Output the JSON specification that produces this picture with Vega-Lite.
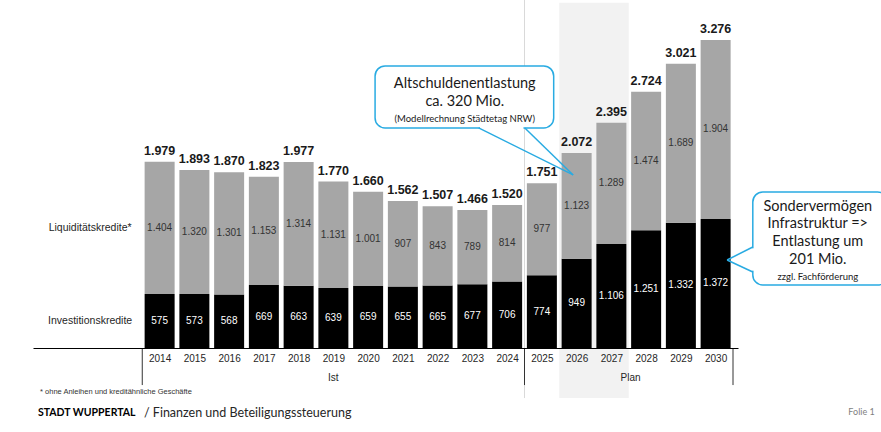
{
  "$schema": "https://vega.github.io/schema/vega-lite/v6.json",
  "width": 705,
  "height": 348,
  "autosize": "none",
  "padding": {"left": 33, "top": 0, "right": 143, "bottom": 84},
  "config": {
    "view": {"stroke": null},
    "font": "Liberation Sans"
  },
  "datasets": {
    "kredite": [
      {"year": 2014, "series": "Investitionskredite", "value": 575},
      {"year": 2014, "series": "Liquiditätskredite*", "value": 1404},
      {"year": 2015, "series": "Investitionskredite", "value": 573},
      {"year": 2015, "series": "Liquiditätskredite*", "value": 1320},
      {"year": 2016, "series": "Investitionskredite", "value": 568},
      {"year": 2016, "series": "Liquiditätskredite*", "value": 1301},
      {"year": 2017, "series": "Investitionskredite", "value": 669},
      {"year": 2017, "series": "Liquiditätskredite*", "value": 1153},
      {"year": 2018, "series": "Investitionskredite", "value": 663},
      {"year": 2018, "series": "Liquiditätskredite*", "value": 1314},
      {"year": 2019, "series": "Investitionskredite", "value": 639},
      {"year": 2019, "series": "Liquiditätskredite*", "value": 1131},
      {"year": 2020, "series": "Investitionskredite", "value": 659},
      {"year": 2020, "series": "Liquiditätskredite*", "value": 1001},
      {"year": 2021, "series": "Investitionskredite", "value": 655},
      {"year": 2021, "series": "Liquiditätskredite*", "value": 907},
      {"year": 2022, "series": "Investitionskredite", "value": 665},
      {"year": 2022, "series": "Liquiditätskredite*", "value": 843},
      {"year": 2023, "series": "Investitionskredite", "value": 677},
      {"year": 2023, "series": "Liquiditätskredite*", "value": 789},
      {"year": 2024, "series": "Investitionskredite", "value": 706},
      {"year": 2024, "series": "Liquiditätskredite*", "value": 814},
      {"year": 2025, "series": "Investitionskredite", "value": 774},
      {"year": 2025, "series": "Liquiditätskredite*", "value": 977},
      {"year": 2026, "series": "Investitionskredite", "value": 949},
      {"year": 2026, "series": "Liquiditätskredite*", "value": 1123},
      {"year": 2027, "series": "Investitionskredite", "value": 1106},
      {"year": 2027, "series": "Liquiditätskredite*", "value": 1289},
      {"year": 2028, "series": "Investitionskredite", "value": 1251},
      {"year": 2028, "series": "Liquiditätskredite*", "value": 1474},
      {"year": 2029, "series": "Investitionskredite", "value": 1332},
      {"year": 2029, "series": "Liquiditätskredite*", "value": 1689},
      {"year": 2030, "series": "Investitionskredite", "value": 1372},
      {"year": 2030, "series": "Liquiditätskredite*", "value": 1904}
    ],
    "totals": [
      {"year": 2014, "total": 1979},
      {"year": 2015, "total": 1893},
      {"year": 2016, "total": 1870},
      {"year": 2017, "total": 1823},
      {"year": 2018, "total": 1977},
      {"year": 2019, "total": 1770},
      {"year": 2020, "total": 1660},
      {"year": 2021, "total": 1562},
      {"year": 2022, "total": 1507},
      {"year": 2023, "total": 1466},
      {"year": 2024, "total": 1520},
      {"year": 2025, "total": 1751},
      {"year": 2026, "total": 2072},
      {"year": 2027, "total": 2395},
      {"year": 2028, "total": 2724},
      {"year": 2029, "total": 3021},
      {"year": 2030, "total": 3276}
    ],
    "boxes": [
      {"kind": "highlight", "x": 2025.5, "x2": 2027.5, "y": -532, "y2": 3670},
      {"kind": "bubble", "x": 2020.2, "x2": 2025.34, "y": 2999, "y2": 2340},
      {"kind": "bubble", "x": 2031.07, "x2": 2034.95, "y": 1659, "y2": 670}
    ],
    "lines": [
      {"kind": "light", "x": 2024.5, "x2": 2024.5, "y": -532, "y2": 3700},
      {"kind": "divider", "x": 2013.5, "x2": 2013.5, "y": 0, "y2": -394},
      {"kind": "divider", "x": 2024.5, "x2": 2024.5, "y": 0, "y2": -394},
      {"kind": "divider", "x": 2030.5, "x2": 2030.5, "y": 0, "y2": -394},
      {"kind": "cover", "x": 2023.22, "x2": 2024.47, "y": 2340, "y2": 2340},
      {"kind": "cover", "x": 2031.07, "x2": 2031.07, "y": 1060, "y2": 822},
      {"kind": "tail", "x": 2023.18, "x2": 2025.9, "y": 2340, "y2": 1840},
      {"kind": "tail", "x": 2024.51, "x2": 2025.9, "y": 2340, "y2": 1840},
      {"kind": "tail", "x": 2031.07, "x2": 2030.33, "y": 1074, "y2": 936},
      {"kind": "tail", "x": 2031.07, "x2": 2030.33, "y": 808, "y2": 936}
    ],
    "notes": [
      {"kind": "rowlabel", "x": 2012.0, "y": 1277, "text": "Liquiditätskredite*"},
      {"kind": "rowlabel", "x": 2012.0, "y": 287, "text": "Investitionskredite"},
      {"kind": "group", "x": 2019, "y": -319, "text": "Ist"},
      {"kind": "group", "x": 2027.55, "y": -319, "text": "Plan"},
      {"kind": "bubble", "x": 2022.78, "y": 2809, "text": "Altschuldenentlastung"},
      {"kind": "bubble", "x": 2022.78, "y": 2617, "text": "ca. 320 Mio."},
      {"kind": "bubblesmall", "x": 2022.78, "y": 2436, "text": "(Modellrechnung Städtetag NRW)"},
      {"kind": "bubble", "x": 2032.94, "y": 1499, "text": "Sondervermögen"},
      {"kind": "bubble", "x": 2032.94, "y": 1319, "text": "Infrastruktur =>"},
      {"kind": "bubble", "x": 2032.94, "y": 1127, "text": "Entlastung um"},
      {"kind": "bubble", "x": 2032.94, "y": 936, "text": "201 Mio."},
      {"kind": "bubblesmall", "x": 2032.94, "y": 755, "text": "zzgl. Fachförderung"},
      {"kind": "footnote", "x": 2010.56, "y": -468, "text": "* ohne Anleihen und kreditähnliche Geschäfte"},
      {"kind": "footerbold", "x": 2010.5, "y": -691, "text": "STADT WUPPERTAL"},
      {"kind": "footer", "x": 2013.55, "y": -691, "text": "/ Finanzen und Beteiligungssteuerung"},
      {"kind": "folie", "x": 2033.82, "y": -681, "text": "Folie 1"}
    ]
  },
  "layer": [
    {
      "data": {"name": "boxes"},
      "transform": [{"filter": "datum.kind === 'highlight'"}],
      "mark": {"type": "rect", "color": "#f2f2f2"},
      "encoding": {
        "x": {"field": "x", "type": "quantitative", "scale": {"domain": [2010.5, 2030.5], "nice": false, "zero": false},
          "axis": {"values": [2014,2015,2016,2017,2018,2019,2020,2021,2022,2023,2024,2025,2026,2027,2028,2029,2030],
            "format": "d", "ticks": false, "grid": false, "labelPadding": 5, "title": null, "zindex": 1,
            "domainColor": "#000000", "labelFontSize": 10, "labelColor": "#262626", "labelFont": "Liberation Sans"}},
        "x2": {"field": "x2"},
        "y": {"field": "y", "type": "quantitative", "scale": {"domain": [0, 3700], "nice": false, "zero": false}, "axis": null},
        "y2": {"field": "y2"}
      }
    },
    {
      "data": {"name": "lines"},
      "transform": [{"filter": "datum.kind === 'light'"}],
      "mark": {"type": "rule", "color": "#d9d9d9", "strokeWidth": 1},
      "encoding": {
        "x": {"field": "x", "type": "quantitative"}, "x2": {"field": "x2"},
        "y": {"field": "y", "type": "quantitative"}, "y2": {"field": "y2"}
      }
    },
    {
      "data": {"name": "kredite"},
      "transform": [
        {"stack": "value", "groupby": ["year"], "sort": [{"field": "series", "order": "ascending"}], "as": ["v0", "v1"]}
      ],
      "mark": {"type": "bar", "size": 30},
      "encoding": {
        "x": {"field": "year", "type": "quantitative"},
        "y": {"field": "v0", "type": "quantitative"},
        "y2": {"field": "v1"},
        "color": {"field": "series", "type": "nominal",
          "scale": {"domain": ["Investitionskredite", "Liquiditätskredite*"], "range": ["#000000", "#a6a6a6"]},
          "legend": null}
      }
    },
    {
      "data": {"name": "kredite"},
      "transform": [
        {"stack": "value", "groupby": ["year"], "sort": [{"field": "series", "order": "ascending"}], "as": ["v0", "v1"]},
        {"calculate": "(datum.v0 + datum.v1) / 2", "as": "mid"},
        {"calculate": "replace(format(datum.value, ',d'), ',', '.')", "as": "label"},
        {"calculate": "datum.series === 'Investitionskredite' ? '#ffffff' : '#333333'", "as": "tc"}
      ],
      "mark": {"type": "text", "fontSize": 10, "baseline": "middle"},
      "encoding": {
        "x": {"field": "year", "type": "quantitative"},
        "y": {"field": "mid", "type": "quantitative"},
        "text": {"field": "label"},
        "color": {"field": "tc", "type": "nominal", "scale": null}
      }
    },
    {
      "data": {"name": "totals"},
      "transform": [
        {"calculate": "replace(format(datum.total, ',d'), ',', '.')", "as": "label"}
      ],
      "mark": {"type": "text", "fontSize": 12.5, "fontWeight": "bold", "baseline": "alphabetic", "dy": -7, "color": "#1a1a1a"},
      "encoding": {
        "x": {"field": "year", "type": "quantitative"},
        "y": {"field": "total", "type": "quantitative"},
        "text": {"field": "label"}
      }
    },
    {
      "data": {"name": "lines"},
      "transform": [{"filter": "datum.kind === 'divider'"}],
      "mark": {"type": "rule", "color": "#333333", "strokeWidth": 1},
      "encoding": {
        "x": {"field": "x", "type": "quantitative"}, "x2": {"field": "x2"},
        "y": {"field": "y", "type": "quantitative"}, "y2": {"field": "y2"}
      }
    },
    {
      "data": {"name": "boxes"},
      "transform": [{"filter": "datum.kind === 'bubble'"}],
      "mark": {"type": "rect", "fill": "#ffffff", "stroke": "#29abe2", "strokeWidth": 1.5, "cornerRadius": 10},
      "encoding": {
        "x": {"field": "x", "type": "quantitative"}, "x2": {"field": "x2"},
        "y": {"field": "y", "type": "quantitative"}, "y2": {"field": "y2"}
      }
    },
    {
      "data": {"name": "lines"},
      "transform": [{"filter": "datum.kind === 'cover'"}],
      "mark": {"type": "rule", "color": "#ffffff", "strokeWidth": 3},
      "encoding": {
        "x": {"field": "x", "type": "quantitative"}, "x2": {"field": "x2"},
        "y": {"field": "y", "type": "quantitative"}, "y2": {"field": "y2"}
      }
    },
    {
      "data": {"name": "lines"},
      "transform": [{"filter": "datum.kind === 'tail'"}],
      "mark": {"type": "rule", "color": "#29abe2", "strokeWidth": 1.5},
      "encoding": {
        "x": {"field": "x", "type": "quantitative"}, "x2": {"field": "x2"},
        "y": {"field": "y", "type": "quantitative"}, "y2": {"field": "y2"}
      }
    },
    {
      "data": {"name": "notes"},
      "transform": [{"filter": "datum.kind === 'rowlabel'"}],
      "mark": {"type": "text", "fontSize": 10.5, "baseline": "middle", "color": "#262626"},
      "encoding": {"x": {"field": "x", "type": "quantitative"}, "y": {"field": "y", "type": "quantitative"}, "text": {"field": "text"}}
    },
    {
      "data": {"name": "notes"},
      "transform": [{"filter": "datum.kind === 'group'"}],
      "mark": {"type": "text", "fontSize": 10, "baseline": "middle", "color": "#262626"},
      "encoding": {"x": {"field": "x", "type": "quantitative"}, "y": {"field": "y", "type": "quantitative"}, "text": {"field": "text"}}
    },
    {
      "data": {"name": "notes"},
      "transform": [{"filter": "datum.kind === 'bubble'"}],
      "mark": {"type": "text", "font": "Lato", "fontSize": 14.5, "baseline": "middle", "color": "#1a1a1a"},
      "encoding": {"x": {"field": "x", "type": "quantitative"}, "y": {"field": "y", "type": "quantitative"}, "text": {"field": "text"}}
    },
    {
      "data": {"name": "notes"},
      "transform": [{"filter": "datum.kind === 'bubblesmall'"}],
      "mark": {"type": "text", "font": "Lato", "fontSize": 9.5, "baseline": "middle", "color": "#1a1a1a"},
      "encoding": {"x": {"field": "x", "type": "quantitative"}, "y": {"field": "y", "type": "quantitative"}, "text": {"field": "text"}}
    },
    {
      "data": {"name": "notes"},
      "transform": [{"filter": "datum.kind === 'footnote'"}],
      "mark": {"type": "text", "fontSize": 7.5, "baseline": "middle", "align": "left", "color": "#333333"},
      "encoding": {"x": {"field": "x", "type": "quantitative"}, "y": {"field": "y", "type": "quantitative"}, "text": {"field": "text"}}
    },
    {
      "data": {"name": "notes"},
      "transform": [{"filter": "datum.kind === 'footerbold'"}],
      "mark": {"type": "text", "font": "Lato", "fontSize": 10.5, "fontWeight": "bold", "baseline": "middle", "align": "left", "color": "#000000"},
      "encoding": {"x": {"field": "x", "type": "quantitative"}, "y": {"field": "y", "type": "quantitative"}, "text": {"field": "text"}}
    },
    {
      "data": {"name": "notes"},
      "transform": [{"filter": "datum.kind === 'footer'"}],
      "mark": {"type": "text", "font": "Lato", "fontSize": 12.5, "baseline": "middle", "align": "left", "color": "#262626"},
      "encoding": {"x": {"field": "x", "type": "quantitative"}, "y": {"field": "y", "type": "quantitative"}, "text": {"field": "text"}}
    },
    {
      "data": {"name": "notes"},
      "transform": [{"filter": "datum.kind === 'folie'"}],
      "mark": {"type": "text", "font": "Lato", "fontSize": 9, "baseline": "middle", "align": "left", "color": "#7f7f7f"},
      "encoding": {"x": {"field": "x", "type": "quantitative"}, "y": {"field": "y", "type": "quantitative"}, "text": {"field": "text"}}
    }
  ]
}
